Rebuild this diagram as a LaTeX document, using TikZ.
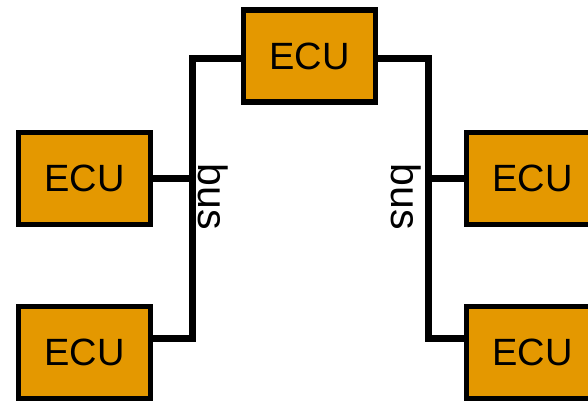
\documentclass[tikz,border=0pt]{standalone}
\usepackage{fontspec}
\setmainfont{Liberation Sans}
\definecolor{ecuorange}{RGB}{228,152,0}
\begin{document}
\begin{tikzpicture}[x=1pt,y=-1pt,
  ecu/.style={draw=black, fill=ecuorange, line width=5.5pt, minimum width=132pt, minimum height=92pt, inner sep=0pt,
    font=\fontsize{38}{44}\selectfont},
  bus/.style={draw=black, line width=7pt, line join=miter, line cap=butt},
  buslabel/.style={rotate=-90, inner sep=0pt, font=\fontsize{41}{46}\selectfont}]
\useasboundingbox (0,0) rectangle (588,404);
\node[ecu] (top) at (309.5,56) {ECU};
\node[ecu] (ecutl) at (84.5,178.5) {ECU};
\node[ecu] (ecubl) at (84.5,352.5) {ECU};
\node[ecu] (ecutr) at (532.5,178.5) {ECU};
\node[ecu] (ecubr) at (532.5,352.5) {ECU};
\coordinate (lbend) at (192,338.5);
\coordinate (rbend) at (428,338.5);
\draw[bus] ([yshift=-2pt]top.west) -| (lbend) -- (lbend -| ecubl.east);
\draw[bus] (ecutl.east) -- (ecutl.east -| lbend);
\draw[bus] ([yshift=-2pt]top.east) -| (rbend) -- (rbend -| ecubr.west);
\draw[bus] (ecutr.west) -- (ecutr.west -| rbend);
\node[buslabel] (busl) at (213,197) {bus};
\node[buslabel] (busr) at (406,197) {bus};
\end{tikzpicture}
\end{document}
